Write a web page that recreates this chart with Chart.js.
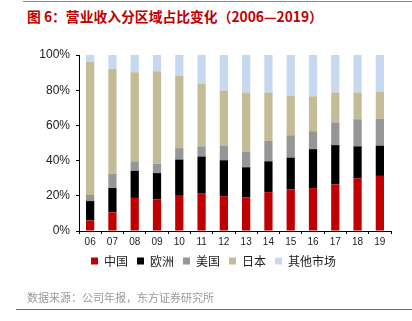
<!DOCTYPE html>
<html>
<head>
<meta charset="utf-8">
<script src="https://cdn.jsdelivr.net/npm/chart.js@4.4.1/dist/chart.umd.min.js"></script>
<style>
  html, body { margin: 0; padding: 0; background: #fff; }
  #wrap { position: relative; width: 412px; height: 321px; overflow: hidden; font-family: "Noto Sans CJK SC", "Noto Sans", sans-serif; }
  #topline { position: absolute; left: 23px; top: 1px; width: 389px; height: 1px; background: #e06666; }
  #title { position: absolute; left: 27px; top: 6px; font-size: 13.8px; font-weight: bold; color: #c00000; white-space: nowrap; line-height: 20px; }
  #source { position: absolute; left: 27px; top: 288px; font-size: 11px; color: #9a9a9a; white-space: nowrap; line-height: 18px; }
  #bottomline { position: absolute; left: 16px; top: 309px; width: 396px; height: 1px; background: #d04040; }
  #c { position: absolute; left: 0; top: 0; }
</style>
</head>
<body>
<div id="wrap">
  <div id="topline"></div>
  <div id="title">图 6：营业收入分区域占比变化（2006—2019）</div>
  <canvas id="c" width="412" height="321"></canvas>
  <div id="source">数据来源：公司年报，东方证券研究所</div>
  <div id="bottomline"></div>
</div>
<script>
// Years (two-digit labels)
const years = ['06','07','08','09','10','11','12','13','14','15','16','17','18','19'];

// Revenue share by region, percent
const china  = [6.0, 10.6, 18.8, 17.9, 20.0, 21.2, 19.8, 19.0, 22.1, 23.7, 24.4, 26.5, 30.0, 31.3];
const europe = [11.0, 13.8, 15.4, 15.0, 20.6, 21.1, 20.4, 17.2, 17.5, 18.0, 22.1, 22.3, 18.1, 17.2];
const usa    = [3.5, 8.1, 5.4, 5.4, 6.5, 5.8, 8.1, 8.8, 11.6, 12.7, 10.2, 12.9, 15.4, 15.3];
const japan  = [75.5, 59.6, 50.6, 52.5, 41.0, 35.7, 31.5, 33.7, 27.5, 22.5, 19.8, 17.0, 15.2, 15.4];
const others = [4.0, 7.9, 9.8, 9.2, 11.9, 16.2, 20.2, 21.3, 21.3, 23.1, 23.5, 21.3, 21.3, 20.8];

// Y axis tick values
const yTicks = [0, 20, 40, 60, 80, 100];

const seriesNames = ['中国', '欧洲', '美国', '日本', '其他市场'];
const seriesData = [china, europe, usa, japan, others];
const seriesColors = ['#c00000', '#000000', '#969696', '#c4bc96', '#c6d9f0'];

const FONT = '"Liberation Sans", Arial, sans-serif';
const CJK = '"Noto Sans CJK SC", "Noto Sans", sans-serif';

// Nudge the legend row a little to the right of the canvas centre
const legendShift = {
  id: 'legendShift',
  afterLayout(chart) {
    const lg = chart.legend;
    if (lg) { lg.left += 9; lg.right += 9; }
  }
};

new Chart(document.getElementById('c'), {
  type: 'bar',
  data: {
    labels: years,
    datasets: seriesNames.map((name, i) => ({
      label: name,
      data: seriesData[i],
      backgroundColor: seriesColors[i],
      borderWidth: 0,
      barPercentage: 0.37,
      categoryPercentage: 1.0
    }))
  },
  plugins: [legendShift],
  options: {
    responsive: false,
    animation: false,
    devicePixelRatio: 1,
    layout: { padding: { left: 18, right: 21, top: 55, bottom: 44 } },
    plugins: {
      title: { display: false },
      tooltip: { enabled: false },
      legend: {
        position: 'bottom',
        labels: {
          boxWidth: 7,
          boxHeight: 7,
          padding: 9,
          color: '#222',
          font: { family: CJK, size: 12 }
        }
      }
    },
    scales: {
      x: {
        stacked: true,
        grid: { display: true, drawOnChartArea: false, color: '#000', tickLength: 3, offset: true },
        border: { color: '#000', width: 1 },
        ticks: { color: '#222', font: { family: FONT, size: 10 }, padding: 2, maxRotation: 0 },
        afterFit: (axis) => { axis.height -= 4; }
      },
      y: {
        stacked: true,
        min: 0,
        max: 100,
        afterBuildTicks: (axis) => { axis.ticks = yTicks.map(v => ({ value: v })); },
        afterFit: (axis) => { axis.width = 61; },
        grid: { display: true, drawOnChartArea: false, color: '#000', tickLength: 3 },
        border: { color: '#000', width: 1 },
        ticks: { color: '#222', font: { family: FONT, size: 12 }, padding: 6, callback: v => v + '%' }
      }
    }
  }
});
</script>
</body>
</html>
